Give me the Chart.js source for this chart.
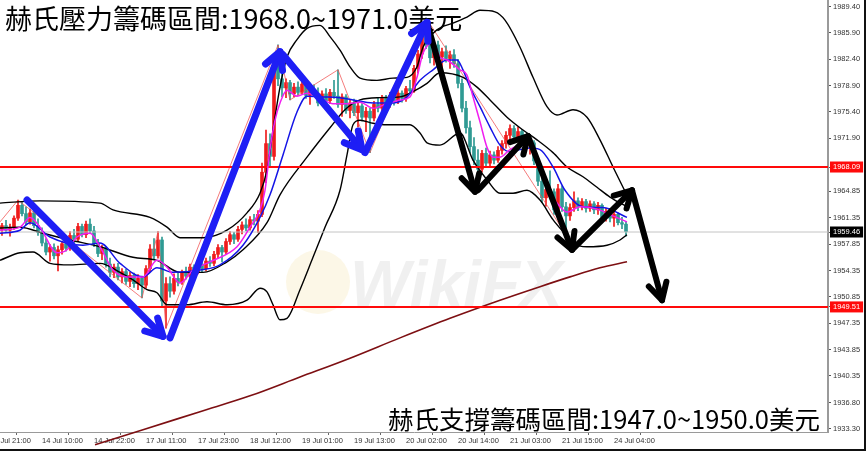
<!DOCTYPE html>
<html><head><meta charset="utf-8">
<script src="https://cdn.jsdelivr.net/npm/chart.js@4"></script>
<style>html,body{margin:0;padding:0;background:#fff;overflow:hidden}#wrap{width:866px;height:451px;position:relative}</style>
</head><body><div id="wrap"><canvas id="c" width="866" height="451"></canvas></div>
<script>
// ---- candles (hourly, XAUUSD) ----
const opens = [1959.8,1960.3,1959.7,1960.1,1961.3,1963.0,1961.9,1960.8,1962.0,1960.3,
1959.4,1958.0,1956.8,1957.4,1956.3,1957.1,1957.9,1957.3,1959.0,1958.5,
1960.2,1959.1,1960.5,1959.6,1957.9,1956.6,1957.2,1955.2,1954.1,1954.8,
1953.5,1954.2,1952.9,1953.7,1952.6,1953.3,1952.4,1954.6,1957.2,1956.3,
1958.4,1950.3,1952.6,1951.6,1953.3,1952.8,1954.0,1953.6,1954.8,1954.2,
1955.2,1954.6,1955.6,1955.3,1956.5,1957.4,1956.8,1958.2,1959.1,1958.5,
1959.8,1960.4,1960.0,1961.1,1960.9,1961.8,1967.4,1971.2,1969.5,1981.8,
1979.8,1978.6,1979.3,1977.8,1978.7,1978.0,1979.1,1977.6,1978.4,1977.9,
1976.6,1977.8,1976.9,1978.0,1977.5,1976.4,1977.4,1975.6,1976.6,1975.3,
1976.2,1974.7,1975.5,1974.6,1976.4,1975.9,1977.2,1976.4,1977.6,1976.8,
1977.9,1977.2,1978.5,1978.2,1981.2,1983.1,1985.6,1984.4,1982.6,1984.3,
1982.7,1983.4,1982.5,1983.0,1981.8,1979.2,1975.9,1973.3,1970.8,1969.0,
1967.8,1969.9,1968.6,1969.7,1969.0,1970.3,1971.2,1972.3,1973.2,1972.1,
1972.8,1971.5,1970.9,1971.3,1968.9,1966.2,1964.0,1965.1,1964.8,1962.4,
1965.2,1962.8,1961.6,1962.7,1963.6,1962.8,1963.5,1962.6,1963.2,1962.4,
1963.0,1961.4,1962.2,1961.3,1961.8,1960.7,1960.5];
const highs = [1960.6,1961.0,1960.5,1961.6,1963.7,1963.4,1962.8,1962.5,1962.3,1961.2,
1960.0,1958.6,1957.8,1957.9,1957.6,1958.2,1958.4,1959.5,1959.8,1960.6,
1960.5,1960.9,1961.2,1960.2,1958.5,1957.7,1957.5,1956.0,1955.2,1955.3,
1954.6,1954.5,1954.1,1954.0,1953.8,1953.6,1955.0,1957.8,1958.6,1959.5,
1958.8,1953.4,1953.5,1953.9,1954.0,1954.4,1954.8,1955.2,1955.1,1955.6,
1955.5,1956.0,1956.2,1956.9,1957.8,1957.7,1958.6,1959.5,1959.4,1960.2,
1960.8,1961.2,1961.5,1961.8,1962.3,1968.6,1973.0,1972.5,1982.6,1984.3,
1981.5,1979.8,1979.6,1979.2,1979.4,1979.5,1979.4,1978.8,1979.0,1978.6,
1978.2,1978.5,1978.4,1979.6,1981.0,1977.8,1977.7,1977.0,1977.1,1976.6,
1976.5,1976.0,1975.9,1976.8,1977.3,1977.6,1977.6,1978.0,1978.1,1978.3,
1978.2,1978.8,1979.6,1981.6,1983.6,1986.2,1987.9,1985.8,1984.9,1984.8,
1983.9,1984.2,1983.5,1983.7,1982.4,1979.8,1976.8,1974.2,1972.0,1970.4,
1970.3,1970.6,1970.2,1970.1,1970.8,1971.6,1972.8,1973.7,1973.6,1973.4,
1973.1,1972.4,1971.8,1971.6,1969.3,1966.8,1965.6,1967.6,1965.2,1965.8,
1965.6,1963.4,1963.2,1964.8,1964.0,1963.9,1963.8,1963.6,1963.5,1963.4,
1963.2,1962.6,1962.6,1962.1,1962.0,1961.4,1960.8];
const lows = [1959.0,1959.4,1958.9,1959.8,1961.0,1961.6,1960.4,1960.5,1960.0,1959.0,
1957.6,1956.4,1955.6,1955.9,1954.3,1956.5,1956.9,1957.0,1958.0,1958.2,
1958.8,1958.7,1959.3,1957.5,1956.2,1955.8,1954.8,1953.5,1953.4,1953.1,
1952.7,1952.5,1952.2,1952.1,1951.8,1950.7,1952.0,1954.2,1955.8,1956.0,
1949.6,1946.7,1950.8,1951.2,1952.3,1952.5,1953.2,1953.3,1953.8,1953.9,
1954.1,1954.3,1954.9,1955.0,1956.0,1955.5,1956.5,1957.8,1957.9,1958.2,
1959.2,1959.6,1959.7,1960.4,1959.4,1961.5,1966.0,1968.0,1969.0,1978.9,
1977.4,1977.3,1977.0,1977.4,1977.6,1977.8,1977.2,1976.4,1977.5,1976.2,
1976.3,1976.4,1976.5,1977.2,1976.0,1974.8,1975.2,1974.6,1974.9,1973.4,
1974.2,1972.8,1970.0,1974.2,1975.4,1975.5,1975.9,1976.0,1976.3,1976.5,
1976.7,1976.8,1977.8,1978.0,1980.6,1982.5,1983.8,1981.9,1981.6,1982.0,
1980.6,1982.0,1981.2,1981.3,1978.6,1975.4,1972.6,1970.0,1968.4,1967.1,
1967.4,1968.1,1968.2,1968.5,1968.7,1969.8,1970.6,1971.8,1971.6,1971.4,
1971.0,1970.4,1969.8,1968.4,1965.6,1963.4,1962.9,1964.3,1961.8,1962.0,
1962.2,1959.1,1961.0,1962.2,1962.3,1962.4,1962.1,1962.2,1961.9,1961.8,
1960.7,1960.9,1960.8,1960.2,1960.4,1959.9,1958.9];
const closes = [1960.3,1959.7,1960.1,1961.3,1963.0,1961.9,1960.8,1962.0,1960.3,1959.4,
1958.0,1956.8,1957.4,1956.3,1957.1,1957.9,1957.3,1959.0,1958.5,1960.2,
1959.1,1960.5,1959.6,1957.9,1956.6,1957.2,1955.2,1954.1,1954.8,1953.5,
1954.2,1952.9,1953.7,1952.6,1953.3,1952.4,1954.6,1957.2,1956.3,1958.4,
1950.3,1952.6,1951.6,1953.3,1952.8,1954.0,1953.6,1954.8,1954.2,1955.2,
1954.6,1955.6,1955.3,1956.5,1957.4,1956.8,1958.2,1959.1,1958.5,1959.8,
1960.4,1960.0,1961.1,1960.9,1961.8,1967.4,1971.2,1969.5,1981.8,1979.8,
1978.6,1979.3,1977.8,1978.7,1978.0,1979.1,1977.6,1978.4,1977.9,1976.6,
1977.8,1976.9,1978.0,1977.5,1976.4,1977.4,1975.6,1976.6,1975.3,1976.2,
1974.7,1975.5,1974.6,1976.4,1975.9,1977.2,1976.4,1977.6,1976.8,1977.9,
1977.2,1978.5,1978.2,1981.2,1983.1,1985.6,1984.4,1982.6,1984.3,1982.7,
1983.4,1982.5,1983.0,1981.8,1979.2,1975.9,1973.3,1970.8,1969.0,1967.8,
1969.9,1968.6,1969.7,1969.0,1970.3,1971.2,1972.3,1973.2,1972.1,1972.8,
1971.5,1970.9,1971.3,1968.9,1966.2,1964.0,1965.1,1964.8,1962.4,1965.2,
1962.8,1961.6,1962.7,1963.6,1962.8,1963.5,1962.6,1963.2,1962.4,1963.0,
1961.4,1962.2,1961.3,1961.8,1960.7,1960.5,1959.5];

// ---- indicator lines: [bar index, price] ----
const bbUpper = [[-0.5,1963.3],[9.5,1963.6],[24.5,1963.3],[27.75,1962.4],[37,1961.4],[41.25,1960.1],[44.5,1958.7],[50.25,1958.7],[56.25,1959.7],[61.25,1962.0],[64.5,1964.6],[66.25,1967.7],[67.75,1973.0],[69.5,1978.7],[71.25,1982.7],[73.75,1985.0],[76.25,1986.5],[79.5,1986.9],[82,1985.4],[84.5,1983.6],[87,1981.4],[89.5,1979.9],[93.75,1979.6],[97.75,1979.9],[101.25,1980.0],[103.75,1981.4],[105.25,1984.0],[108.75,1986.3],[112.75,1987.2],[116.25,1988.0],[119.5,1988.9],[123.25,1988.7],[125.75,1987.6],[129.5,1984.0],[132.75,1980.0],[136.25,1976.1],[138.75,1975.0],[142.75,1975.7],[146.25,1974.7],[149.5,1971.7],[152.75,1968.1],[155.25,1965.4],[156.5,1964.1]];
const bbMiddle = [[-0.5,1960.0],[4.5,1960.1],[10.25,1959.3],[17,1958.4],[24.5,1957.5],[32.75,1956.1],[38.75,1955.7],[44.5,1954.1],[50.25,1954.1],[56.25,1955.5],[60.25,1957.1],[66.25,1960.7],[69.5,1964.4],[76.25,1969.4],[82,1973.3],[85.75,1975.7],[89.5,1977.0],[94.5,1977.3],[99.5,1977.4],[102.75,1978.1],[106.25,1979.2],[109.5,1980.6],[115.25,1980.0],[118.75,1978.7],[122,1977.0],[126.25,1974.7],[130.25,1973.0],[133.75,1971.7],[137.75,1970.0],[141.25,1968.1],[145.25,1966.8],[148.75,1965.4],[152,1964.1],[156.25,1962.8]];
const bbLower = [[-0.5,1955.7],[4.5,1956.7],[7.75,1956.8],[12,1955.3],[17,1955.1],[24.5,1955.3],[29.5,1954.1],[32.75,1953.1],[36.25,1951.8],[38.75,1951.4],[41.25,1949.8],[46.25,1949.8],[51.25,1950.2],[56.25,1949.8],[61.25,1950.4],[64.5,1952.0],[66.25,1951.5],[67.75,1949.8],[69.5,1947.8],[71.25,1948.0],[74.5,1951.8],[77.75,1956.1],[80.75,1960.1],[84.5,1965.0],[86.25,1969.7],[87.75,1973.7],[89.5,1974.3],[92.75,1973.9],[96.25,1973.7],[102,1973.7],[104.5,1972.6],[106.25,1971.3],[109.5,1971.0],[114.5,1972.6],[117.75,1969.0],[121.25,1966.4],[124.5,1964.6],[127.75,1964.6],[131.25,1965.0],[134.5,1963.7],[137.75,1961.1],[140.25,1959.5],[142.75,1958.0],[146.25,1957.5],[151.25,1957.7],[154.5,1958.4],[156.25,1959.1]];
const maFast = [[-0.5,1959.7],[4.5,1960.1],[7,1961.4],[9.5,1960.1],[13.75,1956.7],[16.25,1957.1],[18.75,1958.8],[22,1959.3],[24.5,1957.5],[27.75,1954.4],[31.25,1953.5],[35.25,1953.5],[38.75,1955.7],[41.25,1954.8],[44.5,1952.7],[47.75,1954.4],[52,1955.5],[58.75,1957.5],[62,1960.1],[64.5,1962.4],[65.75,1965.0],[67,1970.4],[68.25,1974.3],[69.5,1976.6],[71.25,1978.3],[73.75,1977.5],[76.25,1977.9],[79.5,1977.3],[82.75,1976.5],[86.25,1976.5],[89.5,1976.7],[92.75,1975.9],[96.25,1976.5],[99.5,1977.0],[102,1977.4],[103.75,1980.0],[105.25,1983.2],[107.75,1984.6],[109.5,1982.7],[111.25,1982.3],[114.5,1981.0],[116.25,1980.3],[117.75,1977.4],[119.5,1974.1],[121.25,1970.7],[122.75,1969.4],[124.5,1969.4],[127,1970.4],[131.25,1971.3],[134.5,1968.4],[136.25,1965.0],[138.75,1963.3],[141.25,1962.1],[144.5,1962.8],[148.75,1962.5],[152.75,1961.6],[156.25,1960.8]];
const maSlow = [[-0.5,1959.3],[4.5,1959.7],[7,1960.7],[12,1958.8],[20.25,1957.7],[24.5,1958.0],[29.5,1955.3],[35.25,1953.5],[38.75,1954.7],[42.75,1954.1],[49.5,1954.4],[54.5,1955.1],[60.25,1957.7],[64.5,1961.4],[67,1964.4],[70.25,1969.7],[73.75,1975.4],[76.25,1977.5],[79.5,1977.4],[84.5,1977.3],[87.75,1977.0],[92.75,1976.6],[97.75,1976.6],[101.25,1977.4],[104.5,1979.6],[107.75,1981.0],[111.25,1982.3],[113.75,1982.3],[115.25,1981.0],[117,1978.7],[119.5,1976.1],[122,1973.4],[124.5,1971.0],[127,1970.1],[129.5,1970.4],[132,1970.6],[134.5,1970.4],[137.75,1968.1],[140.75,1965.0],[145.25,1962.8],[150.25,1962.7],[156.25,1961.4]];
const maLong = [[23.25,1931.2],[35.25,1933.2],[49.5,1935.6],[62,1937.7],[74.5,1940.2],[87,1942.7],[99.5,1945.4],[112,1948.0],[124.5,1950.4],[134.5,1952.2],[142,1953.5],[149.5,1954.7],[156.25,1955.5]];
const zigzag = [[-0.5,1960.8],[4,1963.7],[35,1950.7],[39,1959.5],[41,1946.7],[69,1984.3],[72,1977.0],[84,1981.0],[92,1970.0],[106,1987.9],[141,1959.1]];

// ---- levels & annotations ----
const resistanceLevel = 1968.09;
const supportLevel = 1949.51;
const bidLevel = 1959.46;
const arrowsBlue = [[[6.25,1963.7],[40.25,1945.6]],[[42,1945.4],[69.5,1983.4]],[[70.25,1983.0],[90,1970.4]],[[90.75,1970.0],[106.25,1987.3]]];
const arrowsBlack = [[[106.25,1987.3],[118.25,1964.8]],[[119,1965.0],[131.5,1972.2]],[[131.5,1972.2],[142.5,1957.1]],[[142.5,1957.1],[157.5,1965.0]],[[157.5,1965.0],[165,1950.4]]];
const noteTop = '赫氏壓力籌碼區間:1968.0~1971.0美元';
const noteBottom = '赫氏支撐籌碼區間:1947.0~1950.0美元';
const watermark = 'WikiFX';

// ---- axes ----
const yTicks = [1989.40,1985.90,1982.40,1978.90,1975.40,1971.90,1968.09,1964.85,1961.35,1959.46,1957.85,1954.35,1950.85,1949.51,1947.35,1943.85,1940.35,1936.80,1933.30];
const xTickIdx = [-3,10,23,36,49,62,75,88,101,114,127,140,153];
const xTickLabels = ['13 Jul 21:00','14 Jul 10:00','14 Jul 22:00','17 Jul 11:00','17 Jul 23:00','18 Jul 12:00','19 Jul 01:00','19 Jul 13:00','20 Jul 02:00','20 Jul 14:00','21 Jul 03:00','21 Jul 15:00','24 Jul 04:00'];
const xMin = -0.5, xMax = 206.5, yMin = 1932.9, yMax = 1990.27;

const UP = '#ef1b1b', DOWN = '#2f9a93';
const idx = closes.map((_, i) => i);
const cCol = idx.map(i => closes[i] >= opens[i] ? UP : DOWN);
const pts = a => a.map(([x, y]) => ({x, y}));
const lineDs = (data, color, width, order, extra) => Object.assign({
  type: 'line', data: pts(data), borderColor: color, borderWidth: width, pointRadius: 0,
  fill: false, cubicInterpolationMode: 'monotone', order
}, extra || {});
const hLine = (v, color, width) => ({type: 'line', data: [{x: xMin, y: v}, {x: xMax, y: v}], borderColor: color, borderWidth: width, pointRadius: 0, order: 3});
const arrowDs = (a, color, width) => ({type: 'line', data: pts(a), borderColor: color, borderWidth: width, pointRadius: 0, borderCapStyle: 'round', order: 0, arrow: true, tension: 0});

const datasets = [
  {type: 'bar', data: idx.map(i => ({x: i, y: [lows[i], highs[i]]})), backgroundColor: cCol, barThickness: 1, grouped: false, minBarLength: 1, order: 9},
  {type: 'bar', data: idx.map(i => ({x: i, y: [opens[i], closes[i]]})), backgroundColor: cCol, barThickness: 3, grouped: false, minBarLength: 1, order: 8},
  hLine(bidLevel, '#c4c4c4', 1),
  hLine(resistanceLevel, '#ff0a0a', 2),
  hLine(supportLevel, '#ff0a0a', 2),
  lineDs(zigzag, 'rgba(240,80,80,0.75)', 1, 6, {cubicInterpolationMode: 'default', tension: 0}),
  lineDs(maLong, '#7d0f12', 1.6, 5, {clip: {left: 0, top: 0, right: 0, bottom: 14}}),
  lineDs(bbUpper, '#000', 1.4, 4),
  lineDs(bbMiddle, '#000', 1.4, 4),
  lineDs(bbLower, '#000', 1.4, 4),
  lineDs(maSlow, '#1414e6', 1.5, 2),
  lineDs(maFast, '#f01ef0', 1.5, 1),
  ...arrowsBlue.map(a => arrowDs(a, '#1e1ef5', 7)),
  ...arrowsBlack.map(a => arrowDs(a, '#000', 6))
];

let notesDone = false;
function drawNotes(chart) {
  const ctx = chart.ctx;
  ctx.save();
  ctx.fillStyle = '#000';
  ctx.textBaseline = 'alphabetic';
  ctx.font = '27px "Noto Sans CJK TC"';
  ctx.fillText(noteTop, 5, 29);
  ctx.font = '25.5px "Noto Sans CJK TC"';
  ctx.fillText(noteBottom, 388, 429);
  ctx.restore();
}
const overlay = {
  id: 'overlay',
  beforeDatasetsDraw(chart) {
    const ctx = chart.ctx;
    ctx.save();
    ctx.font = 'italic bold 64px "Liberation Sans"';
    ctx.fillStyle = 'rgba(0,0,0,0.06)';
    ctx.fillText(watermark, 350, 306);
    ctx.fillStyle = 'rgba(235,190,70,0.13)';
    ctx.beginPath(); ctx.arc(318, 282, 32, 0, Math.PI * 2); ctx.fill();
    ctx.restore();
    notesDone = false;
  },
  beforeDatasetDraw(chart, args) {
    if (chart.data.datasets[args.index].arrow && !notesDone) { drawNotes(chart); notesDone = true; }
  },
  afterDatasetDraw(chart, args) {
    const ds = chart.data.datasets[args.index];
    if (!ds.arrow) return;
    const p = args.meta.data, a = p[0], b = p[1];
    const ang = Math.atan2(b.y - a.y, b.x - a.x), L = 19, th = 0.5;
    const ctx = chart.ctx;
    ctx.save();
    ctx.strokeStyle = ds.borderColor; ctx.lineWidth = ds.borderWidth;
    ctx.lineCap = 'round'; ctx.lineJoin = 'round';
    ctx.beginPath();
    ctx.moveTo(b.x - L * Math.cos(ang - th), b.y - L * Math.sin(ang - th));
    ctx.lineTo(b.x, b.y);
    ctx.lineTo(b.x - L * Math.cos(ang + th), b.y - L * Math.sin(ang + th));
    ctx.stroke();
    ctx.restore();
  },
  afterDatasetsDraw(chart) { if (!notesDone) { drawNotes(chart); notesDone = true; } },
  afterDraw(chart) {
    const ctx = chart.ctx;
    ctx.save();
    ctx.fillStyle = '#111';
    ctx.fillRect(chart.width - 2, 0, 2, chart.height);
    ctx.fillRect(0, chart.height - 2, chart.width, 2);
    ctx.restore();
  }
};

const special = v => v === resistanceLevel || v === supportLevel ? '#ff0a0a' : (v === bidLevel ? '#000' : null);

new Chart(document.getElementById('c'), {
  type: 'bar',
  data: {datasets},
  options: {
    responsive: false, animation: false, devicePixelRatio: 1,
    layout: {padding: 0},
    plugins: {legend: {display: false}, tooltip: {enabled: false}},
    scales: {
      x: {
        type: 'linear', min: xMin, max: xMax, bounds: 'data', offset: false,
        grid: {drawOnChartArea: false, drawTicks: true, tickLength: 3, color: '#666'},
        border: {display: true, color: '#9a9a9a', width: 1},
        ticks: {autoSkip: false, maxRotation: 0, align: 'start', padding: 1, color: '#333',
          font: {family: 'Liberation Sans', size: 7.5},
          callback: v => { const k = xTickIdx.indexOf(v); return k >= 0 ? xTickLabels[k] : null; }},
        afterBuildTicks: s => { s.ticks = xTickIdx.map(v => ({value: v})); },
        afterFit: s => { s.height = 19; s.paddingLeft = 0; s.paddingRight = 0; }
      },
      y: {
        type: 'linear', position: 'right', min: yMin, max: yMax, bounds: 'data',
        grid: {drawOnChartArea: false, drawTicks: true, tickLength: 3, color: '#555'},
        border: {display: true, color: '#9a9a9a', width: 2},
        ticks: {autoSkip: false, padding: 2, crossAlign: 'near',
          font: {family: 'Liberation Sans', size: 7.5},
          color: c => special(c.tick.value) ? '#fff' : '#333',
          showLabelBackdrop: true,
          backdropColor: c => special(c.tick.value) || 'rgba(0,0,0,0)',
          backdropPadding: {x: 3, y: 1},
          callback: v => v.toFixed(2)},
        afterBuildTicks: s => { s.ticks = yTicks.map(v => ({value: v})); },
        afterFit: s => { s.width = 38; s.paddingTop = 0; s.paddingBottom = 0; }
      }
    }
  },
  plugins: [overlay]
});
</script></body></html>
